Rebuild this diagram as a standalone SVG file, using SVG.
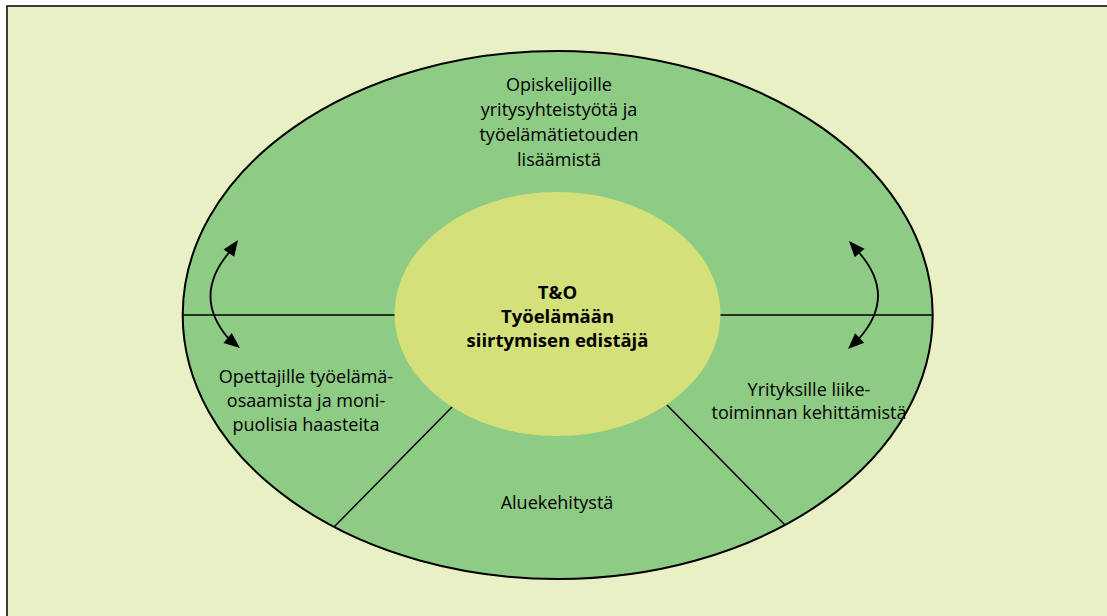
<svg xmlns="http://www.w3.org/2000/svg" width="1107" height="616" viewBox="0 0 1107 616">
  <defs>
    <style>
      .lbl { font-family: "Open Sans", "Noto Sans", sans-serif; font-size: 18px; fill: #000; text-anchor: middle; }
      .core { font-family: "Open Sans", "Noto Sans", sans-serif; font-size: 18.5px; font-weight: bold; fill: #000; text-anchor: middle; }
      .div { stroke: #000; stroke-width: 1.5; fill: none; }
      .swap { stroke: #000; stroke-width: 1.8; fill: none; }
      .tip { fill: #000; }
    </style>
  </defs>

  <!-- page and frame -->
  <rect x="0" y="0" width="1107" height="616" fill="#ffffff"/>
  <rect x="7" y="6" width="1200" height="700" fill="#E9F0C5" stroke="#111" stroke-width="1.6"/>

  <!-- outer ring -->
  <g id="ring">
    <ellipse cx="557.7" cy="315" rx="375" ry="264" fill="#8ECB84" stroke="#000" stroke-width="2"/>
  </g>

  <!-- sector dividers and exchange arrows -->
  <g id="connectors">
    <line class="div" x1="182.7" y1="315" x2="396" y2="315"/>
    <line class="div" x1="719" y1="315" x2="932.7" y2="315" stroke="#333" stroke-width="2"/>
    <line class="div" x1="453" y1="406" x2="334" y2="527"/>
    <line class="div" x1="667" y1="405" x2="785" y2="525"/>
    <!-- left exchange -->
    <path class="swap" d="M229.5,252 Q192,296 228.5,338.5"/>
    <polygon class="tip" points="238,240 223.6,249.4 234.2,256.8"/>
    <polygon class="tip" points="240,348 223.5,342.9 231.7,332.9"/>
    <!-- right exchange -->
    <path class="swap" d="M859,252.5 Q897,296 859,338.5"/>
    <polygon class="tip" points="849,241 864.5,248.7 854.7,257.3"/>
    <polygon class="tip" points="848,349 864.1,342.7 855.1,333.3"/>
  </g>

  <!-- centre node -->
  <g id="core">
    <ellipse cx="557.5" cy="314" rx="163" ry="122" fill="#D4E17A"/>
    <text class="core" x="557.5" y="299">T&amp;O</text>
    <text class="core" x="557.5" y="323">Työelämään</text>
    <text class="core" x="557.5" y="347">siirtymisen edistäjä</text>
  </g>

  <g id="students">
    <text class="lbl" x="559" y="91">Opiskelijoille</text>
    <text class="lbl" x="559" y="116">yritysyhteistyötä ja</text>
    <text class="lbl" x="559" y="141">työelämätietouden</text>
    <text class="lbl" x="559" y="166">lisäämistä</text>
  </g>

  <g id="teachers">
    <text class="lbl" x="306" y="383">Opettajille työelämä-</text>
    <text class="lbl" x="306" y="407">osaamista ja moni-</text>
    <text class="lbl" x="306" y="431">puolisia haasteita</text>
  </g>

  <g id="companies">
    <text class="lbl" x="809" y="396">Yrityksille liike-</text>
    <text class="lbl" x="809" y="419">toiminnan kehittämistä</text>
  </g>

  <g id="region">
    <text class="lbl" x="557" y="509">Aluekehitystä</text>
  </g>
</svg>
